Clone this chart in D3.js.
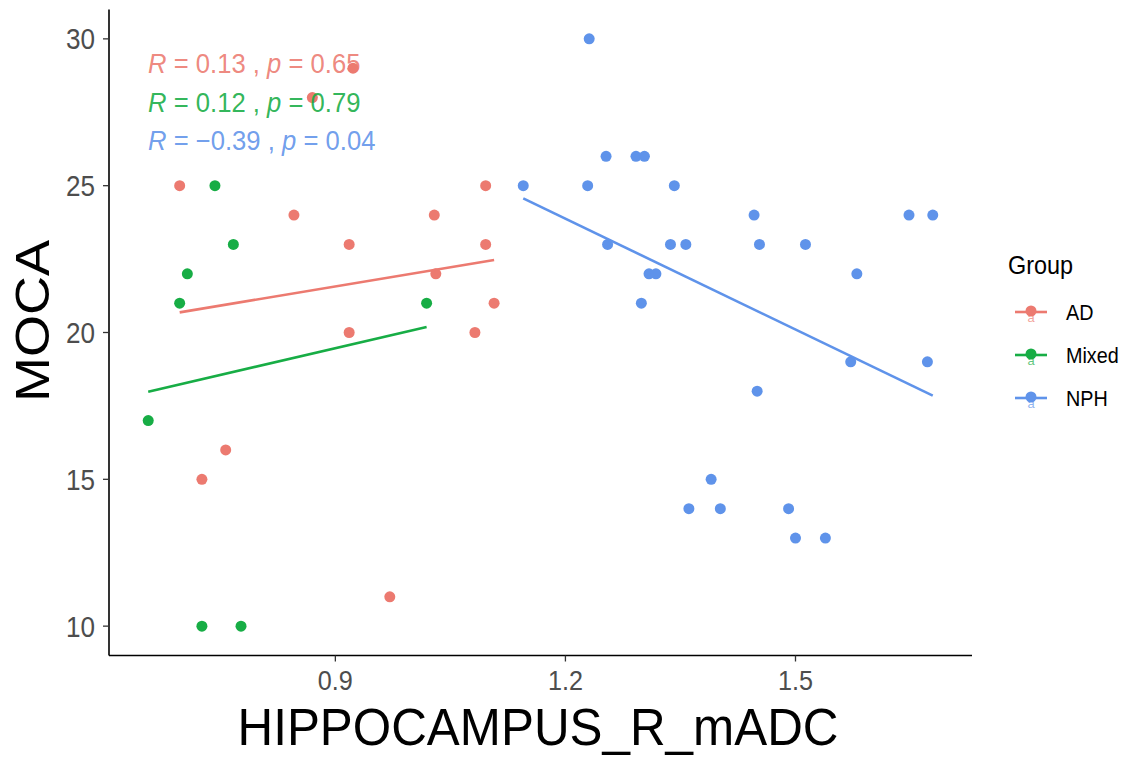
<!DOCTYPE html>
<html>
<head>
<meta charset="utf-8">
<script src="https://cdn.jsdelivr.net/npm/d3@7"></script>
<style>
  html, body { margin: 0; padding: 0; background: #fff; }
  svg { display: block; font-family: Arial, "Liberation Sans", sans-serif; }
</style>
</head>
<body>
<svg id="chart" width="1131" height="757"></svg>
<script>
// ---- data ----
const groups = ["AD", "Mixed", "NPH"];
const groupColors = ["#ec7a70", "#17ad45", "#5f93ea"];

const adX = [0.923, 0.870, 0.697, 1.096, 0.846, 1.029, 0.918, 1.096, 1.031, 1.107, 0.918, 1.082, 0.757, 0.726, 0.971];
const adY = [29, 28, 25, 25, 24, 24, 23, 23, 22, 21, 20, 20, 16, 15, 11];

const mixedX = [0.743, 0.767, 0.707, 0.697, 1.019, 0.656, 0.726, 0.777];
const mixedY = [25, 23, 22, 21, 21, 17, 10, 10];

const nphX = [1.231, 1.253, 1.292, 1.303, 1.145, 1.229, 1.342, 1.446, 1.648, 1.679, 1.255, 1.337, 1.357, 1.453, 1.513,
              1.309, 1.318, 1.580, 1.299, 1.572, 1.672, 1.450, 1.390, 1.361, 1.402, 1.491, 1.500, 1.539];
const nphY = [30, 26, 26, 26, 25, 25, 25, 24, 24, 24, 23, 23, 23, 23, 23,
              22, 22, 22, 21, 19, 19, 18, 15, 14, 14, 14, 13, 13];

const corR = ["0.13", "0.12", "\u22120.39"];
const corP = ["0.65", "0.79", "0.04"];

const xTicks = [0.9, 1.2, 1.5];
const yTicks = [10, 15, 20, 25, 30];
const xTitle = "HIPPOCAMPUS_R_mADC";
const yTitle = "MOCA";
const legendTitle = "Group";

// ---- assemble ----
const seriesX = [adX, mixedX, nphX];
const seriesY = [adY, mixedY, nphY];
const points = [];
groups.forEach((g, gi) => seriesX[gi].forEach((xv, i) => points.push({ g: gi, x: xv, y: seriesY[gi][i] })));

const svg = d3.select("#chart");
const pL = 109, pR = 972, pT = 9.5, pB = 655.5;

const allX = points.map(d => d.x), allY = points.map(d => d.y);
const xMin = d3.min(allX), xMax = d3.max(allX);
const yMin = d3.min(allY), yMax = d3.max(allY);
const xPad = (xMax - xMin) * 0.05, yPad = (yMax - yMin) * 0.05;
const x = d3.scaleLinear().domain([xMin - xPad, xMax + xPad]).range([pL, pR]);
const y = d3.scaleLinear().domain([yMin - yPad, yMax + yPad]).range([pB, pT]);

const SX = 0.9; // horizontal condensation of text seen in reference

function ctext(parent, tx, ty, str, opts) {
  const g = parent.append("g").attr("transform", `translate(${tx},${ty}) scale(${opts.sx || SX},1)`);
  const t = g.append("text").attr("x", 0).attr("y", 0)
    .attr("font-size", opts.size).attr("fill", opts.fill || "#000")
    .attr("text-anchor", opts.anchor || "start");
  if (str !== null) t.text(str);
  return t;
}

function lm(xs, ys) {
  const mx = d3.mean(xs), my = d3.mean(ys);
  let sxy = 0, sxx = 0;
  xs.forEach((v, i) => { sxy += (v - mx) * (ys[i] - my); sxx += (v - mx) * (v - mx); });
  const b = sxy / sxx;
  return { a: my - b * mx, b: b };
}

// points
svg.append("g").selectAll("circle").data(points).join("circle")
  .attr("cx", d => x(d.x)).attr("cy", d => y(d.y)).attr("r", 5.5)
  .attr("fill", d => groupColors[d.g]);

// regression lines (lm per group)
const line = d3.line().x(d => x(d[0])).y(d => y(d[1]));
groups.forEach((g, gi) => {
  const fit = lm(seriesX[gi], seriesY[gi]);
  const x0 = d3.min(seriesX[gi]), x1 = d3.max(seriesX[gi]);
  svg.append("path").attr("d", line([[x0, fit.a + fit.b * x0], [x1, fit.a + fit.b * x1]]))
    .attr("stroke", groupColors[gi]).attr("stroke-width", 2.6).attr("fill", "none");
});

// correlation annotations
const annBase = [73, 112, 150];
groups.forEach((g, gi) => {
  const t = ctext(svg, 148, annBase[gi], null, { size: 27, fill: groupColors[gi], sx: 0.95 });
  t.attr("fill-opacity", 0.9);
  t.append("tspan").attr("font-style", "italic").text("R");
  t.append("tspan").text(" = " + corR[gi] + " , ");
  t.append("tspan").attr("font-style", "italic").text("p");
  t.append("tspan").text(" = " + corP[gi]);
});

// axes
const axisG = svg.append("g");
axisG.append("line").attr("x1", pL).attr("x2", pL).attr("y1", pT).attr("y2", pB)
  .attr("stroke", "#000").attr("stroke-width", 1.6);
axisG.append("line").attr("x1", pL).attr("x2", pR).attr("y1", pB).attr("y2", pB)
  .attr("stroke", "#000").attr("stroke-width", 1.6);

xTicks.forEach(v => {
  axisG.append("line").attr("x1", x(v)).attr("x2", x(v)).attr("y1", pB).attr("y2", pB + 6)
    .attr("stroke", "#333").attr("stroke-width", 1.3);
  ctext(axisG, x(v), 690, d3.format(".1f")(v), { size: 28, fill: "#4d4d4d", anchor: "middle" });
});
yTicks.forEach(v => {
  axisG.append("line").attr("x1", pL - 6).attr("x2", pL).attr("y1", y(v)).attr("y2", y(v))
    .attr("stroke", "#333").attr("stroke-width", 1.3);
  ctext(axisG, 95, y(v) + 10.5, String(v), { size: 29, fill: "#4d4d4d", anchor: "end" });
});

// axis titles
ctext(svg, 538, 745, xTitle, { size: 52, fill: "#000", anchor: "middle", sx: 0.95 });
svg.append("text")
  .attr("transform", `translate(49,321) rotate(-90) scale(1,${SX})`)
  .attr("text-anchor", "middle").attr("font-size", 54).attr("fill", "#000")
  .text(yTitle);

// legend
const lg = svg.append("g");
ctext(lg, 1008, 274, legendTitle, { size: 26, fill: "#000" });
const legY = [312, 355, 398];
groups.forEach((g, gi) => {
  const cy = legY[gi];
  lg.append("line").attr("x1", 1015).attr("x2", 1047).attr("y1", cy).attr("y2", cy)
    .attr("stroke", groupColors[gi]).attr("stroke-width", 2.6);
  lg.append("circle").attr("cx", 1031).attr("cy", cy - 1).attr("r", 5.5).attr("fill", groupColors[gi]);
  lg.append("text").attr("x", 1031).attr("y", cy + 10).attr("text-anchor", "middle")
    .attr("font-size", 13).attr("fill", groupColors[gi]).attr("fill-opacity", 0.7).text("a");
  ctext(lg, 1066, cy + 8, g, { size: 22, fill: "#000" });
});
</script>
</body>
</html>
